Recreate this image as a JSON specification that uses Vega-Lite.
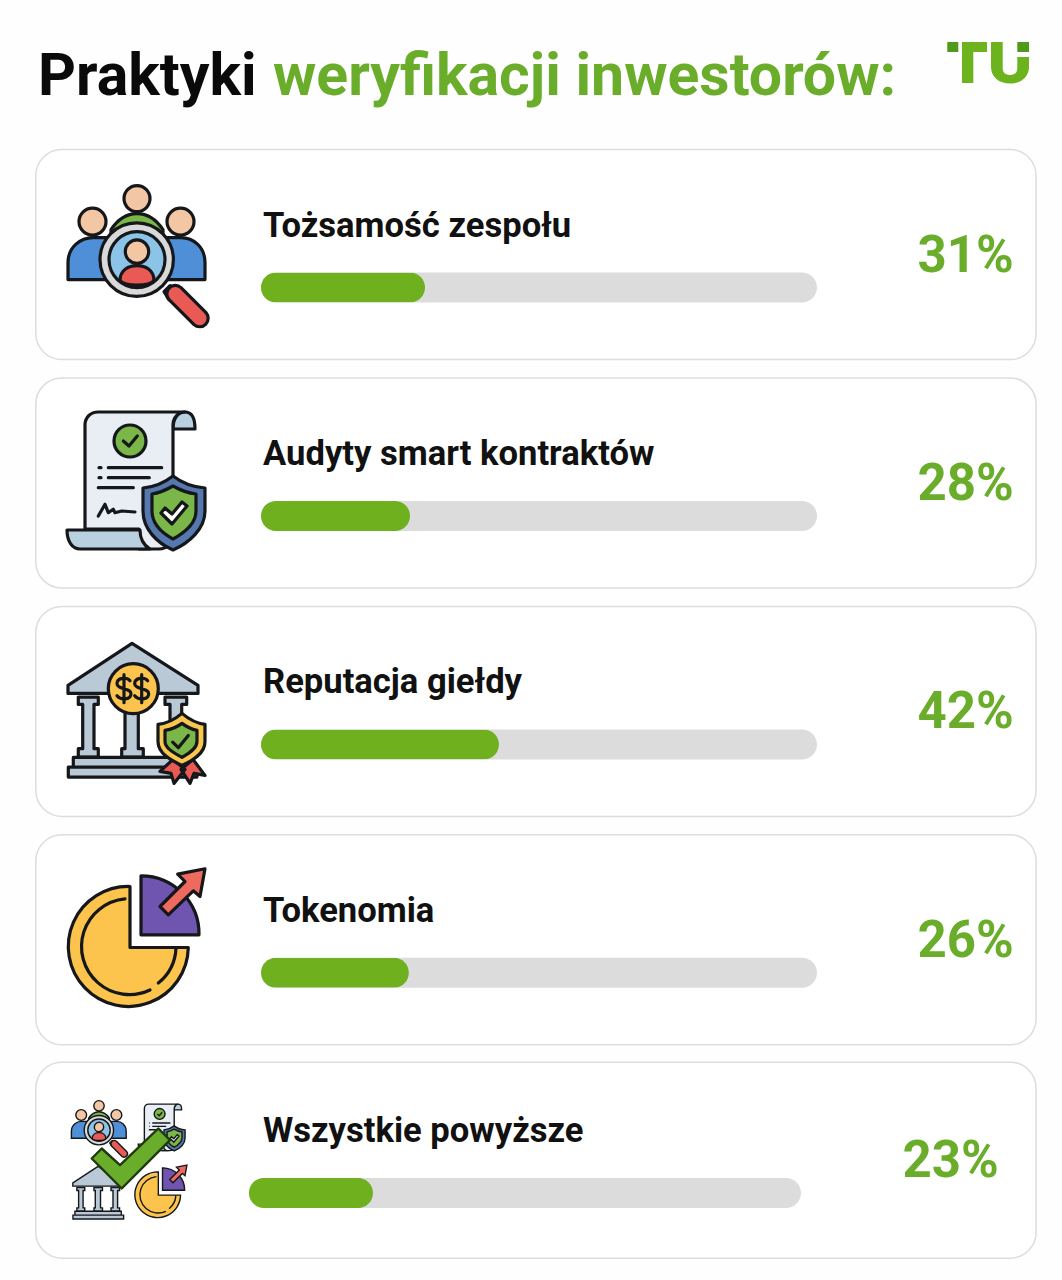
{
"width":1062,"height":1280,"padding":0,
"autosize":{"type":"fit","contains":"padding"},
"background":"#fefefe",
"config":{"view":{"stroke":null},"font":"Roboto"},
"resolve":{"scale":{"x":"independent","y":"independent"}},
"datasets":{
"rows":[
{"row":"Tożsamość zespołu","label":"31%","barLength":29.5},
{"row":"Audyty smart kontraktów","label":"28%","barLength":26.8},
{"row":"Reputacja giełdy","label":"42%","barLength":42.8},
{"row":"Tokenomia","label":"26%","barLength":26.6},
{"row":"Wszystkie powyższe","label":"23%","barLength":22.3}
],
"parts":[
{"row":"Tożsamość zespołu","part":"bodyGreen"},{"row":"Tożsamość zespołu","part":"bodyLeft"},{"row":"Tożsamość zespołu","part":"bodyRight"},{"row":"Tożsamość zespołu","part":"headTop"},{"row":"Tożsamość zespołu","part":"headLeft"},{"row":"Tożsamość zespołu","part":"headRight"},{"row":"Tożsamość zespołu","part":"handleLink"},{"row":"Tożsamość zespołu","part":"handle"},{"row":"Tożsamość zespołu","part":"ring"},{"row":"Tożsamość zespołu","part":"lens"},{"row":"Tożsamość zespołu","part":"personBody"},{"row":"Tożsamość zespołu","part":"personHead"},
{"row":"Audyty smart kontraktów","part":"scrollTop"},{"row":"Audyty smart kontraktów","part":"paper"},{"row":"Audyty smart kontraktów","part":"scrollBottom"},{"row":"Audyty smart kontraktów","part":"docCircle"},{"row":"Audyty smart kontraktów","part":"docCheck"},{"row":"Audyty smart kontraktów","part":"docLines"},{"row":"Audyty smart kontraktów","part":"signature"},{"row":"Audyty smart kontraktów","part":"shield"},{"row":"Audyty smart kontraktów","part":"shieldInner"},{"row":"Audyty smart kontraktów","part":"shieldCheck"},
{"row":"Reputacja giełdy","part":"columns"},{"row":"Reputacja giełdy","part":"roof"},{"row":"Reputacja giełdy","part":"steps"},{"row":"Reputacja giełdy","part":"coin"},{"row":"Reputacja giełdy","part":"dollars"},{"row":"Reputacja giełdy","part":"ribbons"},{"row":"Reputacja giełdy","part":"badge"},{"row":"Reputacja giełdy","part":"badgeInner"},{"row":"Reputacja giełdy","part":"badgeCheck"},
{"row":"Tokenomia","part":"pie"},{"row":"Tokenomia","part":"pieLine"},{"row":"Tokenomia","part":"wedge"},{"row":"Tokenomia","part":"arrow"},
{"row":"Wszystkie powyższe","part":"bigCheck"}
]
},
"data":{"name":"rows"},
"encoding":{"y":{"field":"row","type":"nominal","axis":null,"sort":null,"scale":{"type":"band","domain":["Tożsamość zespołu","Audyty smart kontraktów","Reputacja giełdy","Tokenomia","Wszystkie powyższe"],"range":[140.4,1282.4],"paddingInner":0,"paddingOuter":0}}},
"layer":[
{"transform":[{"filter":"datum.row!='Wszystkie powyższe'"}],
 "mark":{"type":"bar","size":210,"cornerRadius":26,"fill":"#ffffff","stroke":"#dddddd","strokeWidth":1.5},
 "encoding":{"x":{"datum":-40.5,"type":"quantitative","axis":null,"scale":{"domain":[0,100],"range":[261,817]}},"x2":{"datum":139.4}}},
{"transform":[{"filter":"datum.row=='Wszystkie powyższe'"}],
 "mark":{"type":"bar","size":196,"cornerRadius":26,"fill":"#ffffff","stroke":"#dddddd","strokeWidth":1.5},
 "encoding":{"y":{"field":"row","type":"nominal","axis":null,"sort":null,"scale":{"type":"band","domain":["Tożsamość zespołu","Audyty smart kontraktów","Reputacja giełdy","Tokenomia","Wszystkie powyższe"],"range":[132.4,1274.4],"paddingInner":0,"paddingOuter":0}},"x":{"datum":-40.5,"type":"quantitative","axis":null,"scale":{"domain":[0,100],"range":[261,817]}},"x2":{"datum":139.4}}},
{"transform":[{"filter":"datum.row!='Wszystkie powyższe'"}],
 "mark":{"type":"bar","size":30,"cornerRadius":15,"fill":"#dcdcdc"},
 "encoding":{"y":{"field":"row","type":"nominal","axis":null,"sort":null,"scale":{"type":"band","domain":["Tożsamość zespołu","Audyty smart kontraktów","Reputacja giełdy","Tokenomia","Wszystkie powyższe"],"range":[173.4,1315.4],"paddingInner":0,"paddingOuter":0}},"x":{"datum":0,"type":"quantitative","axis":null,"scale":{"domain":[0,100],"range":[261,817]}},"x2":{"datum":100}}},
{"transform":[{"filter":"datum.row!='Wszystkie powyższe'"}],
 "mark":{"type":"bar","size":30,"cornerRadius":15,"fill":"#6fb01e"},
 "encoding":{"y":{"field":"row","type":"nominal","axis":null,"sort":null,"scale":{"type":"band","domain":["Tożsamość zespołu","Audyty smart kontraktów","Reputacja giełdy","Tokenomia","Wszystkie powyższe"],"range":[173.4,1315.4],"paddingInner":0,"paddingOuter":0}},"x":{"field":"barLength","type":"quantitative","axis":null,"scale":{"domain":[0,100],"range":[261,817]}}}},
{"transform":[{"filter":"datum.row=='Wszystkie powyższe'"}],
 "mark":{"type":"bar","size":30,"cornerRadius":15,"fill":"#dcdcdc"},
 "encoding":{"y":{"field":"row","type":"nominal","axis":null,"sort":null,"scale":{"type":"band","domain":["Tożsamość zespołu","Audyty smart kontraktów","Reputacja giełdy","Tokenomia","Wszystkie powyższe"],"range":[165.2,1307.2],"paddingInner":0,"paddingOuter":0}},"x":{"datum":0,"type":"quantitative","axis":null,"scale":{"domain":[0,100],"range":[249,801]}},"x2":{"datum":100}}},
{"transform":[{"filter":"datum.row=='Wszystkie powyższe'"}],
 "mark":{"type":"bar","size":30,"cornerRadius":15,"fill":"#6fb01e"},
 "encoding":{"y":{"field":"row","type":"nominal","axis":null,"sort":null,"scale":{"type":"band","domain":["Tożsamość zespołu","Audyty smart kontraktów","Reputacja giełdy","Tokenomia","Wszystkie powyższe"],"range":[165.2,1307.2],"paddingInner":0,"paddingOuter":0}},"x":{"field":"barLength","type":"quantitative","axis":null,"scale":{"domain":[0,100],"range":[249,805]}}}},
{"transform":[{"filter":"datum.row!='Wszystkie powyższe'"}],
 "mark":{"type":"text","font":"Roboto","fontWeight":700,"fontSize":34.6,"align":"left","baseline":"middle","fill":"#111111"},
 "encoding":{"y":{"field":"row","type":"nominal","axis":null,"sort":null,"scale":{"type":"band","domain":["Tożsamość zespołu","Audyty smart kontraktów","Reputacja giełdy","Tokenomia","Wszystkie powyższe"],"range":[112.4,1254.4],"paddingInner":0,"paddingOuter":0}},"x":{"datum":0,"type":"quantitative","axis":null,"scale":{"domain":[0,100],"range":[263,819]}},"text":{"field":"row"}}},
{"transform":[{"filter":"datum.row=='Wszystkie powyższe'"}],
 "mark":{"type":"text","font":"Roboto","fontWeight":700,"fontSize":34.6,"align":"left","baseline":"middle","fill":"#111111"},
 "encoding":{"y":{"field":"row","type":"nominal","axis":null,"sort":null,"scale":{"type":"band","domain":["Tożsamość zespołu","Audyty smart kontraktów","Reputacja giełdy","Tokenomia","Wszystkie powyższe"],"range":[104.4,1246.4],"paddingInner":0,"paddingOuter":0}},"x":{"datum":0,"type":"quantitative","axis":null,"scale":{"domain":[0,100],"range":[263,819]}},"text":{"field":"row"}}},
{"transform":[{"filter":"datum.row!='Wszystkie powyższe'"}],
 "mark":{"type":"text","font":"Roboto","fontWeight":700,"fontSize":51,"align":"right","baseline":"middle","fill":"#6aad2a"},
 "encoding":{"y":{"field":"row","type":"nominal","axis":null,"sort":null,"scale":{"type":"band","domain":["Tożsamość zespołu","Audyty smart kontraktów","Reputacja giełdy","Tokenomia","Wszystkie powyższe"],"range":[142.4,1284.4],"paddingInner":0,"paddingOuter":0}},"x":{"datum":135.4,"type":"quantitative","axis":null,"scale":{"domain":[0,100],"range":[261,817]}},"text":{"field":"label"}}},
{"transform":[{"filter":"datum.row=='Wszystkie powyższe'"}],
 "mark":{"type":"text","font":"Roboto","fontWeight":700,"fontSize":51,"align":"right","baseline":"middle","fill":"#6aad2a"},
 "encoding":{"y":{"field":"row","type":"nominal","axis":null,"sort":null,"scale":{"type":"band","domain":["Tożsamość zespołu","Audyty smart kontraktów","Reputacja giełdy","Tokenomia","Wszystkie powyższe"],"range":[134.4,1276.4],"paddingInner":0,"paddingOuter":0}},"x":{"datum":135.4,"type":"quantitative","axis":null,"scale":{"domain":[0,100],"range":[246,802]}},"text":{"field":"label"}}},
{"data":{"name":"parts"},
 "resolve":{"scale":{"y":"independent"}},
 "encoding":{
  "x":{"value":137},"size":{"value":4},
  "shape":{"field":"part","type":"nominal","legend":null,"scale":{
   "domain":["bodyGreen","bodyLeft","bodyRight","headTop","headLeft","headRight","handleLink","handle","ring","lens","personBody","personHead","scrollTop","paper","scrollBottom","docCircle","docCheck","docLines","signature","shield","shieldInner","shieldCheck","columns","roof","steps","coin","dollars","ribbons","badge","badgeInner","badgeCheck","pie","pieLine","wedge","arrow","bigCheck"],
   "range":[
   "M-26,-25 C-18,-37 -8,-41 0,-41 C8,-41 18,-37 26,-25 L26,0 H-26Z",
   "M-69,25 V8 C-69,-8 -56,-17 -44,-17 H-28 V25Z",
   "M68,25 V8 C68,-8 56,-17 44,-17 H28 V25Z",
   "M-13,-56 A13,13 0 1 0 13,-56 A13,13 0 1 0 -13,-56Z",
   "M-58,-33 A13.5,13.5 0 1 0 -31,-33 A13.5,13.5 0 1 0 -58,-33Z",
   "M30,-33 A13.5,13.5 0 1 0 57,-33 A13.5,13.5 0 1 0 30,-33Z",
   "M27,37 L33,31 L42,35 L32,45Z",
   "M44,33 L69,58 A8.5,8.5 0 0 1 57,70 L32,45 A8.5,8.5 0 0 1 44,33Z",
   "M-37,5 A36.7,36.7 0 1 0 36.4,5 A36.7,36.7 0 1 0 -37,5Z",
   "M-28,5 A28,28 0 1 0 28,5 A28,28 0 1 0 -28,5Z",
   "M-17,26 C-17,15 -8,11 0,11 C8,11 17,15 17,26 C12,32 -12,32 -17,26Z",
   "M-11.7,-3 A11.7,11.7 0 1 0 11.7,-3 A11.7,11.7 0 1 0 -11.7,-3Z",
   "M36,-54 C36,-65 41,-71 48,-71 C55,-71 58,-64 58,-54Z",
   "M-52,46 V-58 C-52,-66 -46,-71 -39,-71 H48 C41,-71 36,-65 36,-58 V50 C36,60 30,66 22,66 H2 V46Z",
   "M-70,47 H3 C3,57 8,63 13,66 H-57 C-65,66 -70,58 -70,47Z",
   "M-23,-42 A16,16 0 1 0 9,-42 A16,16 0 1 0 -23,-42Z",
   "M-13.7,-42 L-8,-37 L0.3,-47",
   "M-38,-15.3 H-36 M-28.7,-15.3 H24.7 M-38,-5.3 H-36 M-28.7,-5.3 H12.3 M-38.7,4.7 H-3.7",
   "M-38.7,33 L-32,21.3 L-28.7,29.7 L-23.7,26.3 L-22,29.7 L-15.3,28 L-2,29",
   "M36,-7 C45,0 55,4 68,5 V28 C68,46 52,60 36,67 C20,60 6,46 6,28 V5 C17,4 27,0 36,-7Z",
   "M36,3 C43,7 50,10 59,11 V28 C59,41 47,50 36,56 C25,50 15,41 15,28 V11 C22,10 29,7 36,3Z",
   "M24,30 L28,25 L35,31 L45,19 L50,23 L35,41Z",
   "M-58.7,-14.3 H-38.7 V-7 H-43 V37.3 H-38.7 V45.7 H-58.7 V37.3 H-54.3 V-7 H-58.7Z M-15.3,-14.3 H6.3 V-7 H1.3 V37.3 H6.3 V45.7 H-15.3 V37.3 H-12 V-7 H-15.3Z M28,-14.3 H49.7 V-7 H44.7 V37.3 H49.7 V45.7 H28 V37.3 H33 V-7 H28Z",
   "M-5,-68 L61,-26 V-18 H-69 V-26Z",
   "M-63.7,46 H54 V55.7 H60 V65.7 H-68.7 V55.7 H-63.7Z M-63.7,55.7 H54",
   "M-28.7,-22.7 A25,25 0 1 0 21.3,-22.7 A25,25 0 1 0 -28.7,-22.7Z",
   "M-7,-30.7 C-10,-34.7 -20,-33.7 -20,-27.7 C-20,-21.7 -6,-23.7 -6,-17.7 C-6,-11.7 -16,-10.7 -20,-15.7 M-13,-36.7 V-8.7 M10.7,-30.7 C7.7,-34.7 -2.3,-33.7 -2.3,-27.7 C-2.3,-21.7 11.7,-23.7 11.7,-17.7 C11.7,-11.7 1.7,-10.7 -2.3,-15.7 M4.7,-36.7 V-8.7",
   "M36,48 L23,60 L34,62 L37,72 L48,58Z M56,48 L68,64 L57,62 L53,72 L44,58Z",
   "M45,2 C52,8 60,12 68,13 V30 C68,42 56,49 45,54 C34,49 21,42 21,30 V13 C30,12 38,8 45,2Z",
   "M45,12 C49,15 55,18 60,19 V30 C60,37 52,42 45,46 C38,42 28,37 28,30 V19 C34,18 41,15 45,12Z",
   "M35.7,30.7 L41.3,36.3 L51.3,24",
   "M-7,-53.3 V7.7 H51.3 A60,60 0 1 1 -7,-53.3Z",
   "M-12,-41 A48,48 0 1 0 13,50.2 M21.3,43.3 A48,48 0 0 0 39,8.3",
   "M4,-64 A58,58 0 0 1 62,-5 H4Z",
   "M23,-33.3 L31.3,-25 L56.3,-49 L63,-43.3 L68,-71 L40.7,-65.7 L48,-58.3Z",
   "M-45.3,-9.7 L-35.3,-19.7 L-17,-3 L21.3,-39.7 L33,-28 L-15.3,20.3Z"
   ]}},
  "fill":{"field":"part","type":"nominal","legend":null,"scale":{
   "domain":["bodyGreen","bodyLeft","bodyRight","headTop","headLeft","headRight","handleLink","handle","ring","lens","personBody","personHead","scrollTop","paper","scrollBottom","docCircle","docCheck","docLines","signature","shield","shieldInner","shieldCheck","columns","roof","steps","coin","dollars","ribbons","badge","badgeInner","badgeCheck","pie","pieLine","wedge","arrow","bigCheck"],
   "range":["#7ab648","#4f8fd8","#4f8fd8","#f4c7a4","#f4c7a4","#f4c7a4","#ffffff","#e95a55","#d9d9d9","#8cc4e8","#e95a55","#f4c7a4","#b8d0e0","#e8eef4","#b8d0e0","#7ab648","transparent","transparent","transparent","#5578ae","#7ab648","#ffffff","#b9c9d6","#b9c9d6","#b9c9d6","#fcc44d","transparent","#e95a55","#f9c74f","#7ab648","transparent","#fcc44d","transparent","#6f55b0","#ef6a5e","#6aad2a"]}}
 },
 "layer":[
  {"transform":[{"filter":"datum.row!='Wszystkie powyższe'"}],
   "mark":{"type":"point","filled":true,"opacity":1,"stroke":"#15171a","strokeWidth":3.2,"strokeJoin":"round","strokeCap":"round"}},
  {"transform":[{"filter":"datum.row=='Tożsamość zespołu'"}],
   "mark":{"type":"point","filled":true,"opacity":1,"stroke":"#15171a","strokeWidth":1.4},
   "encoding":{"x":{"value":99},"size":{"value":0.64},"y":{"datum":"Wszystkie powyższe","type":"nominal","axis":null,"scale":{"type":"band","domain":["Tożsamość zespołu","Audyty smart kontraktów","Reputacja giełdy","Tokenomia","Wszystkie powyższe"],"range":[100.4,1242.4],"paddingInner":0,"paddingOuter":0}}}},
  {"transform":[{"filter":"datum.row=='Audyty smart kontraktów'"}],
   "mark":{"type":"point","filled":true,"opacity":1,"stroke":"#15171a","strokeWidth":1.4},
   "encoding":{"x":{"value":162},"size":{"value":0.46},"y":{"datum":"Wszystkie powyższe","type":"nominal","axis":null,"scale":{"type":"band","domain":["Tożsamość zespołu","Audyty smart kontraktów","Reputacja giełdy","Tokenomia","Wszystkie powyższe"],"range":[100.4,1242.4],"paddingInner":0,"paddingOuter":0}}}},
  {"transform":[{"filter":"datum.row=='Reputacja giełdy' && indexof(['coin','dollars','ribbons','badge','badgeInner','badgeCheck'],datum.part)<0"}],
   "mark":{"type":"point","filled":true,"opacity":1,"stroke":"#15171a","strokeWidth":1.4},
   "encoding":{"x":{"value":100},"size":{"value":0.62},"y":{"datum":"Wszystkie powyższe","type":"nominal","axis":null,"scale":{"type":"band","domain":["Tożsamość zespołu","Audyty smart kontraktów","Reputacja giełdy","Tokenomia","Wszystkie powyższe"],"range":[165.4,1307.4],"paddingInner":0,"paddingOuter":0}}}},
  {"transform":[{"filter":"datum.row=='Tokenomia'"}],
   "mark":{"type":"point","filled":true,"opacity":1,"stroke":"#15171a","strokeWidth":1.4},
   "encoding":{"x":{"value":161},"size":{"value":0.58},"y":{"datum":"Wszystkie powyższe","type":"nominal","axis":null,"scale":{"type":"band","domain":["Tożsamość zespołu","Audyty smart kontraktów","Reputacja giełdy","Tokenomia","Wszystkie powyższe"],"range":[164.4,1306.4],"paddingInner":0,"paddingOuter":0}}}},
  {"transform":[{"filter":"datum.part=='bigCheck'"}],
   "mark":{"type":"point","filled":true,"opacity":1,"stroke":"#1f3a10","strokeWidth":2.4,"strokeJoin":"round"}}
 ]},
{"data":{"values":[{"word":"Praktyki"}]},
 "mark":{"type":"text","font":"Roboto","fontWeight":700,"fontSize":59,"align":"left","baseline":"alphabetic","fill":"#0a0a0a"},
 "encoding":{"x":{"value":38},"y":{"value":95},"text":{"field":"word"}}},
{"data":{"values":[{"word":"weryfikacji inwestorów:"}]},
 "mark":{"type":"text","font":"Roboto","fontWeight":700,"fontSize":59,"align":"left","baseline":"alphabetic","fill":"#6aad2a"},
 "encoding":{"x":{"value":273},"y":{"value":95},"text":{"field":"word"}}},
{"data":{"values":[{"logo":"TU"}]},
 "mark":{"type":"point","filled":true,"opacity":1,"strokeWidth":0,"fill":"#6db31e","shape":"M-26,-20 H-1 V-10 H-14.7 V21 H-26Z M3,-20 H14.7 V6 C14.7,11 18,13 22,13 C26,13 29.3,11 29.3,6 V-5 H41 V5 C41,15 33,21.5 22,21.5 C11,21.5 3,15 3,5Z","size":4},
 "encoding":{"x":{"value":988},"y":{"value":62}}},
{"data":{"values":[{"logo":"TU"}]},
 "mark":{"type":"point","filled":true,"opacity":1,"strokeWidth":0,"fill":"#4f9a1a","shape":"M-40.7,-20 H-29.7 V-10 H-40.7Z M29.3,-20 H41 V-10 H29.3Z","size":4},
 "encoding":{"x":{"value":988},"y":{"value":62}}}
]
}
